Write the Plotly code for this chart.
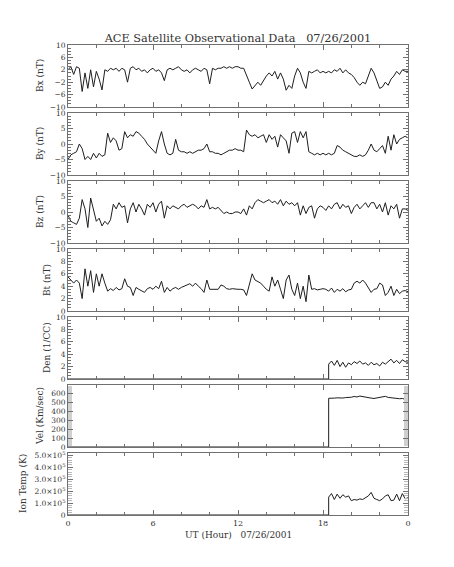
import numpy as np
import plotly.graph_objects as go
from plotly.subplots import make_subplots

# ---------------- data ----------------
# magnetic field samples every 0.2 h from 0.0 to 24.0 UT
bx = [2, 3, 0.5, 3, 2.5, -5, 1, -4, 2, -3.5,
      1.5, -1, -4.5, 2, 1.5, 2.5, 2, 2.5, 1.5, 2.5,
      2, -2, 2.5, 3, 2, 2.5, 1.5, 2, 1, 2,
      2.5, 1.5, 2, 1, -1.5, 2, 2.5, 2, 2.5, 3,
      2, 1.5, 2, 1, 2, 2.5, 2, 1.5, 2.5, 2,
      -2.5, 2.5, 2, 2.5, 2.5, 3, 2.5, 3, 2.5, 3,
      3, 2.5, 2.5, 0, -2, -4.2, -3, -2, -3, -1.5,
      0, 1, 0, 1.5, -1, 1, -1, -4.6, -3, -4,
      0, 2.5, 1, -2, -4, 1.5, 1, 1.5, 2, 1,
      1.5, 1, 1.5, 1, 2, 1.5, 2.5, 1, 2, 1,
      0.5, -0.5, -2, -3, -2, -2.5, 0, 2.5, 1, -1.5,
      -4, -3.5, -2, -3, -1, 0, 1.5, 0.5, 2, 1.5,
      1.5]
by = [-5, -3.5, -3, -2.5, 0, -1.5, -5, -4, -5, -3,
      -4.5, -3, -4, -3.5, 3.5, 0.5, 2, 1, -2, -1.5,
      4, 2, 3, 2.5, 4, 3.5, 2.5, 1.5, 0, -1,
      -2, -3, 1, 4, 0, -3, -3.5, -3, 1.5, -2,
      -2.5, -2.5, -3, -2.5, -3, -2.5, -2, -2, -1.5, 0,
      -2.5, -2.5, -3, -3, -3.5, -3, -2.5, -2, -2, -1.5,
      -2, -2, -2.5, 4.5, 3, 2.5, 3, 2, 2.5, 3,
      0.5, 3, 1.5, 2.5, -1, 3, 2, 1, -3, 3.5,
      4, 0.5, 4, 2, 4, -2.5, -3, -3.5, -3, -3.5,
      -3, -3.5, -3, -3.5, -3, -0.5, -1, -2, -2.5, -3,
      -3.5, -4, -4, -3.5, -4, -3.5, -2, 0, -2, -2.5,
      -1.5, -0.5, -3, 2.5, -2, 3, 0, 1.5, 2, 2.5,
      2]
bz = [-1, -3, -3.5, -4, -2, 4, 1, -5, 4.5, 1,
      -3, -2, -4.5, -3, -4, -2.5, 2.5, 1, 3, 1.5,
      2, -3.5, 1, 3, 0, 2.5, 1, -1, 2.5, 1.5,
      3, 0, 2.5, 3.5, -2, 2, 1, 2, 1.5, 1,
      2, 2.5, 1.5, 2, 2.5, 2, 1, 2, 1.5, 4,
      1, 1.5, 1, 1.5, 0.5, -0.5, 0, -0.5, -0.5, 0,
      0, -0.5, 1, -1, 2, 1, 3, 4, 3.5, 3,
      3.5, 4, 3, 3.5, 2.5, 4, 2, 3.5, 2.5, 3,
      2, 3, -1, 2, -0.5, 1.5, 2, -2, 1, 2,
      1.5, 0.5, 2, 1, 2.5, 3, 1, 2.5, 1.5, 2,
      -0.5, 1.5, 2.5, 1, 2, 3, 1.5, 3, 3, 1,
      2.5, 0, 3, -1, 2, 1, 2.5, -2, 1, 1,
      0.5]
bt = [5.5, 5, 4.5, 5, 4.5, 2, 6.8, 4, 6.5, 3,
      6, 4, 6, 4.5, 3.2, 3.6, 3.3, 3.8, 3.4, 3.6,
      5.2, 4, 3.8, 2.5, 3.8, 3.5, 3.3, 3, 3.6, 3.8,
      3.5, 4, 3.6, 4.8, 3, 3.8, 3.2, 3.6, 3.8, 3.5,
      3.8, 4, 4.2, 4.4, 4, 4.5, 4, 3.6, 3, 5,
      3.5, 3.5, 3.6, 3.5, 4.2, 4, 3.6, 3.5, 3.6, 3.5,
      3.5, 3.5, 3.4, 2.5, 4.5, 6, 5, 4.8, 4.5, 4,
      3.5, 3.2, 5.5, 4, 5, 3.5, 2, 5, 5.8, 3.5,
      2.5, 4.5, 2, 4, 1.5, 5.8, 3.5, 3.6, 3.4, 3.5,
      3.6, 3.5, 3.2, 3.7, 3, 3.5, 3.2, 3.6, 3.1, 3.4,
      3.5, 4.5, 4.8, 4.5, 5, 4.5, 3.8, 3, 3.5, 3.6,
      4.5, 4.2, 2.5, 3, 4, 2.5, 3.5, 2.8, 3.2, 3.3,
      3.1]

# plasma data: zero (no data) until 18.4 UT, then samples every 0.2 h
gap_hours = [0.0, 18.4]
den = [2.4, 2.9, 2.2, 3.0, 2.0, 2.7, 1.9, 2.6, 2.3, 2.8,
       2.5, 2.9, 2.4, 2.6, 2.2, 2.7, 2.3, 2.5, 2.1, 2.7,
       2.4, 2.8, 3.2, 2.6, 3.0, 2.5, 3.1, 2.8, 2.7]
vel = [550, 548, 552, 555, 550, 553, 558, 556, 562, 570,
       565, 575, 568, 560, 556, 552, 548, 555, 560, 566,
       572, 560, 555, 558, 552, 545, 548, 538, 540]
temp = [1.5e5, 1.8e5, 1.3e5, 1.75e5, 1.4e5, 1.7e5, 1.5e5, 1.6e5, 1.2e5, 1.3e5,
        1.25e5, 1.35e5, 1.3e5, 1.45e5, 1.6e5, 1.9e5, 1.4e5, 1.3e5, 1.2e5, 1.35e5,
        1.6e5, 1.7e5, 1.2e5, 1.25e5, 1.75e5, 1.2e5, 1.8e5, 1.35e5, 1.45e5]

hour_ticks = [0, 6, 12, 18, 24]
hour_labels = ["0", "6", "12", "18", "0"]

titles = ["Bx (nT)", "By (nT)", "Bz (nT)", "Bt (nT)", "Den (1/CC)",
          "Vel (Km/sec)", "Ion Temp (K)"]
temp_ticks = [0, 1e5, 2e5, 3e5, 4e5, 5e5]
temp_labels = ["0"] + [f"{v}.0\u00d710<sup>5</sup>" for v in range(1, 6)]

# ---------------- figure ----------------
hours = np.round(np.arange(0, 24.001, 0.2), 1)
plasma_hours = np.round(np.arange(18.4, 24.001, 0.2), 1)
p_hours = np.concatenate([gap_hours, plasma_hours])

def with_gap(vals):
    return np.concatenate([[0, 0], vals])

series = [(hours, bx), (hours, by), (hours, bz), (hours, bt),
          (p_hours, with_gap(den)), (p_hours, with_gap(vel)), (p_hours, with_gap(temp))]

PLOT_H = 567 - 45 - 52
fig = make_subplots(rows=7, cols=1, shared_xaxes=True, vertical_spacing=6 / PLOT_H)

LINE = "#1e1e1e"
AX = "#707070"
TXT = "#333333"
FONT = "DejaVu Serif"

for i, (x, y) in enumerate(series, start=1):
    fig.add_trace(go.Scatter(x=x, y=y, mode="lines",
                             line=dict(color=LINE, width=1), showlegend=False),
                  row=i, col=1)

yspecs = [
    dict(range=[-10, 10], tickvals=[-10, -6, -2, 2, 6, 10], minor_dtick=1, mlen=2.5, mcol=AX),
    dict(range=[-10, 10], tickvals=[-10, -5, 0, 5, 10], minor_dtick=1, mlen=2.5, mcol=AX),
    dict(range=[-10, 10], tickvals=[-10, -5, 0, 5, 10], minor_dtick=1, mlen=2.5, mcol=AX),
    dict(range=[0, 10], tickvals=[0, 2, 4, 6, 8, 10], minor_dtick=0.5, mlen=2.5, mcol=AX),
    dict(range=[0, 10], tickvals=[0, 2, 4, 6, 8, 10], minor_dtick=0.5, mlen=2.5, mcol=AX),
    dict(range=[0, 700], tickvals=[0, 100, 200, 300, 400, 500, 600], minor_dtick=10,
         mlen=4, mcol="#d0d0d0"),
    dict(range=[0, 5.2e5], tickvals=temp_ticks, ticktext=temp_labels, minor_dtick=2e4,
         mlen=4, mcol="#b8b8b8"),
]

for i, spec in enumerate(yspecs, start=1):
    kw = dict(range=spec["range"], tickmode="array", tickvals=spec["tickvals"],
              automargin=False,
              showline=True, mirror="allticks", linecolor=AX, linewidth=1,
              ticks="inside", ticklen=5, tickcolor=AX, tickwidth=1,
              showgrid=False, zeroline=False,
              tickfont=dict(family=FONT, size=7.5, color=TXT),
              minor=dict(ticks="inside", ticklen=spec["mlen"], tickcolor=spec["mcol"],
                         dtick=spec["minor_dtick"], showgrid=False))
    if "ticktext" in spec:
        kw["ticktext"] = spec["ticktext"]
    fig.update_yaxes(row=i, col=1, **kw)
    fig.update_xaxes(row=i, col=1, range=[0, 24], tickmode="array",
                     tickvals=hour_ticks, ticktext=hour_labels, automargin=False,
                     showline=True, mirror="allticks", linecolor=AX, linewidth=1,
                     ticks="inside", ticklen=5, tickcolor=AX,
                     showgrid=False, zeroline=False,
                     showticklabels=(i == 7),
                     tickfont=dict(family=FONT, size=8, color=TXT),
                     minor=dict(ticks="inside", ticklen=3, tickcolor=AX,
                                dtick=2, tick0=0, showgrid=False))

# y-axis titles as rotated annotations (horizontal offsets from the axis)
shifts = [-28, -28, -28, -21, -21, -28, -45]
for i, (t, s) in enumerate(zip(titles, shifts), start=1):
    ydom = "y domain" if i == 1 else f"y{i} domain"
    fig.add_annotation(text=t, xref="paper", x=0, xshift=s, yref=ydom, y=0.5,
                       textangle=-90, showarrow=False, xanchor="center",
                       yanchor="middle",
                       font=dict(family=FONT, size=9, color=TXT))

fig.add_annotation(text="UT (Hour)\u00a0\u00a0 07/26/2001", xref="paper", x=0.5,
                   yref="paper", y=0, yshift=-20, showarrow=False,
                   xanchor="center", yanchor="middle",
                   font=dict(family=FONT, size=9, color=TXT))

fig.update_layout(
    width=454, height=567,
    margin=dict(l=68, r=46, t=45, b=52, autoexpand=False),
    paper_bgcolor="white", plot_bgcolor="white",
    title=dict(text="ACE Satellite Observational Data\u00a0\u00a0 07/26/2001",
               x=0.5, xref="paper", xanchor="center",
               y=1 - 38 / 567, yref="container", yanchor="middle",
               font=dict(family=FONT, size=11.3, color=TXT)),
)

fig.write_html("out.html", config={"displayModeBar": False},
               post_script="document.body.style.margin='0';document.body.style.padding='0';")
